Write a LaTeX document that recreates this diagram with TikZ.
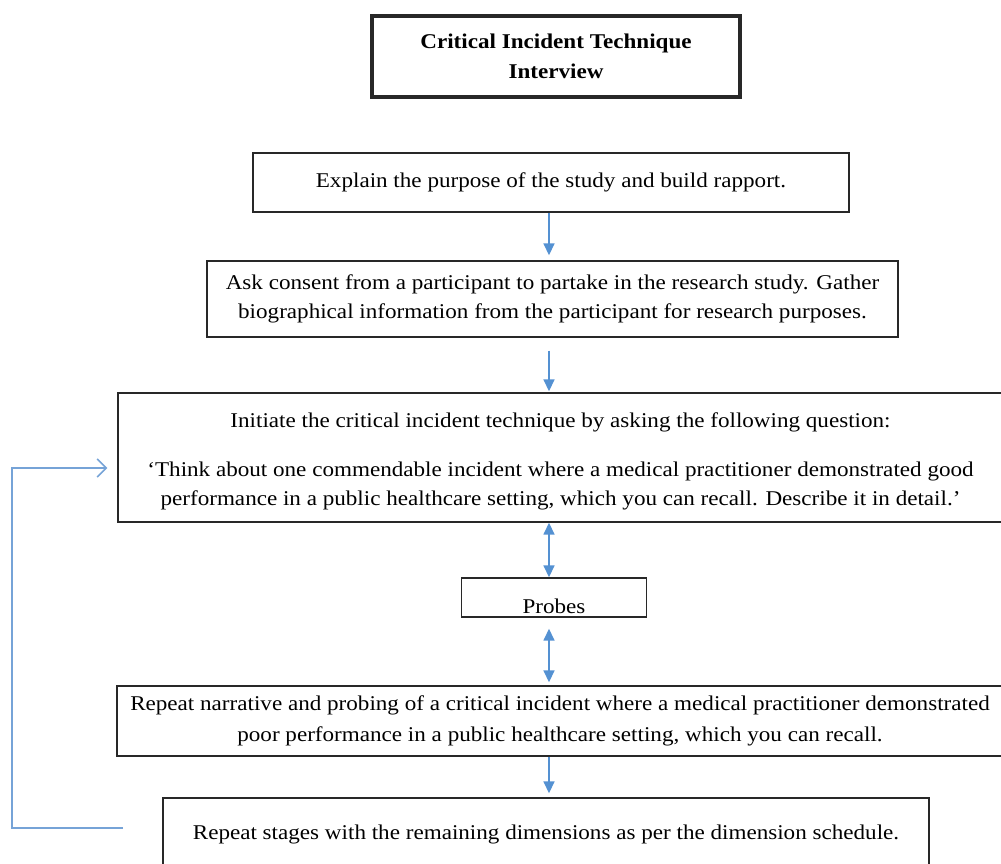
\documentclass[tikz,border=0pt]{standalone}
\usepackage{fontspec}
\setmainfont{Liberation Serif}[FakeStretch=1.1]
\usetikzlibrary{arrows.meta}
\definecolor{flowblue}{RGB}{84,145,210}
\definecolor{loopblue}{RGB}{118,163,215}
\definecolor{edge}{RGB}{40,40,40}
\begin{document}
\begin{tikzpicture}[x=1pt,y=-1pt,
  box/.style={draw=edge, line width=1.4pt, inner sep=0pt, align=center,
    font=\fontsize{21}{29}\selectfont},
  titlebox/.style={box, line width=3.2pt, font=\fontsize{21}{30}\selectfont\bfseries},
  flow/.style={draw=flowblue, line width=1.6pt, -{Triangle[length=12pt,width=11pt]}},
  twoway/.style={draw=flowblue, line width=1.6pt, {Triangle[length=12pt,width=11pt]}-{Triangle[length=12pt,width=11pt]}},
  loopline/.style={draw=loopblue, line width=1.5pt, -{Straight Barb[length=9pt,width=18pt,line width=1.6pt]}}
]
\useasboundingbox (0,0) rectangle (1001,863);

% boxes of the interview flow
\node[titlebox, minimum width=368pt, minimum height=81pt] (title) at (556,56.5)
  {Critical Incident Technique\\Interview};
\node[box, minimum width=596pt, minimum height=59pt] (purpose) at (551,182.5)
  {Explain the purpose of the study and build rapport.};
\node[box, minimum width=691pt, minimum height=76pt] (consent) at (552.5,299)
  {Ask consent from a participant to partake in the research study. Gather\\
   biographical information from the participant for research purposes.};
\node[box, minimum width=885pt, minimum height=129pt] (initiate) at (560.5,457.5)
  {\rule{0pt}{6pt}\\[-12pt]
   Initiate the critical incident technique by asking the following question:\\[20pt]
   ‘Think about one commendable incident where a medical practitioner demonstrated good\\
   performance in a public healthcare setting, which you can recall. Describe it in detail.’};
\node[box, minimum width=185pt, minimum height=39pt] (probes) at (554,597.5) {};
\begin{scope}
  \clip (probes.south west) rectangle (probes.north east);
  \node[font=\fontsize{21}{29}\selectfont] (probeslabel) at (554,606) {Probes};
\end{scope}
\node[box, minimum width=886pt, minimum height=70pt,
      font=\fontsize{21}{31}\selectfont] (poor) at (560,721)
  {Repeat narrative and probing of a critical incident where a medical practitioner demonstrated\\
   poor performance in a public healthcare setting, which you can recall.};
\node[box, minimum width=766pt, minimum height=72pt] (repeat) at (546,834)
  {Repeat stages with the remaining dimensions as per the dimension schedule.};

% connectors
\coordinate (ax) at (549,0);
\draw[flow, shorten >=5pt] (purpose.south -| ax) -- (consent.north -| ax);
\draw[flow, shorten <=13pt, shorten >=1pt] (consent.south -| ax) -- (initiate.north -| ax);
\draw[twoway] (initiate.south -| ax) -- (probes.north -| ax);
\draw[twoway, shorten <=11pt, shorten >=3pt] (probes.south -| ax) -- (poor.north -| ax);
\draw[flow, shorten >=4pt] (poor.south -| ax) -- (repeat.north -| ax);

% loop back to the first question
\coordinate (loopstart) at (123,828);
\coordinate (loopcorner) at (12,468);
\draw[loopline, shorten >=10pt] (loopstart) -| (loopcorner) -- ([yshift=-10.5pt]initiate.west);
\end{tikzpicture}
\end{document}
